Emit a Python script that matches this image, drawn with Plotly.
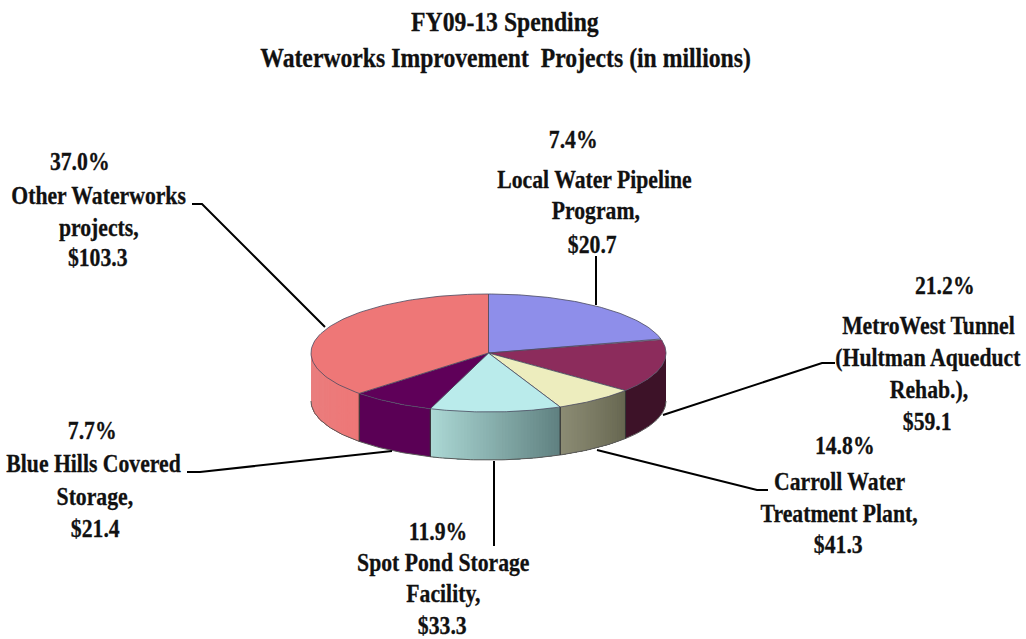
import numpy as np
import plotly.graph_objects as go

# Slice data, clockwise from 12 o'clock as drawn
slice_names = ["MetroWest Tunnel", "Carroll Water Treatment Plant", "Local Water Pipeline Program",
               "Spot Pond Storage Facility", "Blue Hills Covered Storage", "Other Waterworks projects"]
slice_values = [59.1, 41.3, 20.7, 33.3, 21.4, 103.3]
top_colors = ["#8E8EEA", "#8C2C5C", "#EDEDBE", "#BAEBEB", "#5F0059", "#EE7777"]
side_left = ["#8E8EEA", "#3D1228", "#8C8C74", "#ACD9D5", "#5A0055", "#E88080"]
side_right = ["#8E8EEA", "#3D1228", "#666650", "#5F8080", "#5A0055", "#EE7777"]

title_text = ["FY09-13 Spending", "Waterworks Improvement  Projects (in millions)"]
label_text = ["7.4%", "Local Water Pipeline", "Program,", "$20.7",
              "21.2%", "MetroWest Tunnel", "(Hultman Aqueduct", "Rehab.),", "$59.1",
              "14.8%", "Carroll Water", "Treatment Plant,", "$41.3",
              "37.0%", "Other Waterworks", "projects,", "$103.3",
              "7.7%", "Blue Hills Covered", "Storage,", "$21.4",
              "11.9%", "Spot Pond Storage", "Facility,", "$33.3"]

# Layout (pixel space of the page)
label_x = [573, 594, 596, 592, 945, 928, 928, 929, 927, 845, 839, 839, 838,
           80, 98, 99, 98, 92, 94, 95, 95, 438, 443, 443, 442]
label_y = [139, 179, 210, 244, 285, 325, 357, 389, 421, 445, 481, 513, 544,
           161, 195, 227, 257, 430, 463, 496, 528, 531, 562, 593, 625]
leaders = [
    ([192, 202, 325], [204, 204, 327]),
    ([596, 596], [256, 305]),
    ([835, 822, 663], [363, 363, 415]),
    ([768, 757, 597], [490, 490, 450]),
    ([187, 200, 392], [472, 472, 451]),
    ([494, 494], [461, 546]),
]
CX, CY, RX, RY, DEPTH = 488.5, 353.0, 177.5, 59.0, 48.0
EDGE = "#5a5a5a"

def ex(t):
    return CX + RX * np.sin(np.radians(t))

def ey(t, dz=0.0):
    return CY - RY * np.cos(np.radians(t)) + dz

vals = np.array(slice_values)
bounds = np.concatenate([[0.0], np.cumsum(vals) / vals.sum() * 360.0])

fig = go.Figure()

def poly(xs, ys, fill, line=None, w=0.0):
    fig.add_trace(go.Scatter(
        x=list(xs), y=list(ys), mode="lines", fill="toself", fillcolor=fill,
        line=dict(color=line if line else fill, width=w),
        hoverinfo="skip", showlegend=False))

def mix(a, b, f):
    ca = [int(a[i:i + 2], 16) for i in (1, 3, 5)]
    cb = [int(b[i:i + 2], 16) for i in (1, 3, 5)]
    return "rgb(%d,%d,%d)" % tuple(round(p + (q - p) * f) for p, q in zip(ca, cb))

# Front wall: visible part only; later bands paint over earlier ones so no seams show
for i in range(len(vals)):
    a, b = max(bounds[i], 90.0), min(bounds[i + 1], 270.0)
    if b <= a:
        continue
    n = max(int(b - a), 2)
    if side_left[i] == side_right[i]:
        starts = [a]
    else:
        starts = list(np.linspace(a, b, n + 1)[:-1])
    for k, s in enumerate(starts):
        tt = np.linspace(s, b, n + 1)
        # angle grows right-to-left on screen: side_right is at the start
        col = mix(side_right[i], side_left[i], (k + 0.5) / len(starts))
        poly(np.concatenate([ex(tt), ex(tt[::-1])]),
             np.concatenate([ey(tt), ey(tt[::-1], DEPTH)]), col)
    tt = np.linspace(a, b, n + 1)
    fig.add_trace(go.Scatter(x=list(ex(tt)), y=list(ey(tt, DEPTH)), mode="lines",
                             line=dict(color=EDGE, width=1), hoverinfo="skip", showlegend=False))
    for t in (a, b):
        if 90 < t < 270:
            fig.add_trace(go.Scatter(x=[ex(t), ex(t)], y=[ey(t), ey(t, DEPTH)], mode="lines",
                                     line=dict(color="#333333", width=1), hoverinfo="skip", showlegend=False))

# Top face
for i in range(len(vals)):
    tt = np.linspace(bounds[i], bounds[i + 1], 80)
    poly(np.concatenate([[CX], ex(tt), [CX]]), np.concatenate([[CY], ey(tt), [CY]]),
         top_colors[i], "#4a4a60", 0.8)

# Leader lines
for lx, ly in leaders:
    fig.add_trace(go.Scatter(x=lx, y=ly, mode="lines", line=dict(color="black", width=2),
                             hoverinfo="skip", showlegend=False))

FONT = dict(family="Liberation Serif", color="#111111")
ann = []
for txt, y in zip(title_text, [22, 58]):
    ann.append(dict(x=505, y=y, text="<b>%s</b>" % txt, showarrow=False, xanchor="center", yanchor="middle",
                    font=dict(size=27, **FONT), name="title"))
for txt, x, y in zip(label_text, label_x, label_y):
    ann.append(dict(x=x, y=y, text="<b>%s</b>" % txt, showarrow=False, xanchor="center", yanchor="middle",
                    font=dict(size=26, **FONT), name="label"))

fig.update_layout(
    width=1026, height=639, margin=dict(l=0, r=0, t=0, b=0),
    paper_bgcolor="white", plot_bgcolor="white", showlegend=False,
    xaxis=dict(range=[0, 1026], visible=False, fixedrange=True),
    yaxis=dict(range=[639, 0], visible=False, fixedrange=True),
    annotations=ann,
)
narrow = """
document.body.style.margin='0';document.body.style.overflow='hidden';
document.querySelectorAll('.annotation-text').forEach(function(t,i){
  t.style.transformBox='fill-box';t.style.transformOrigin='center';
  t.style.transform='scaleX('+(i<2?0.878:0.835)+')';
  t.style.stroke='#111111';t.style.strokeWidth='0.3px';
});
"""
fig.write_html("out.html", config=dict(displayModeBar=False), post_script=narrow)
